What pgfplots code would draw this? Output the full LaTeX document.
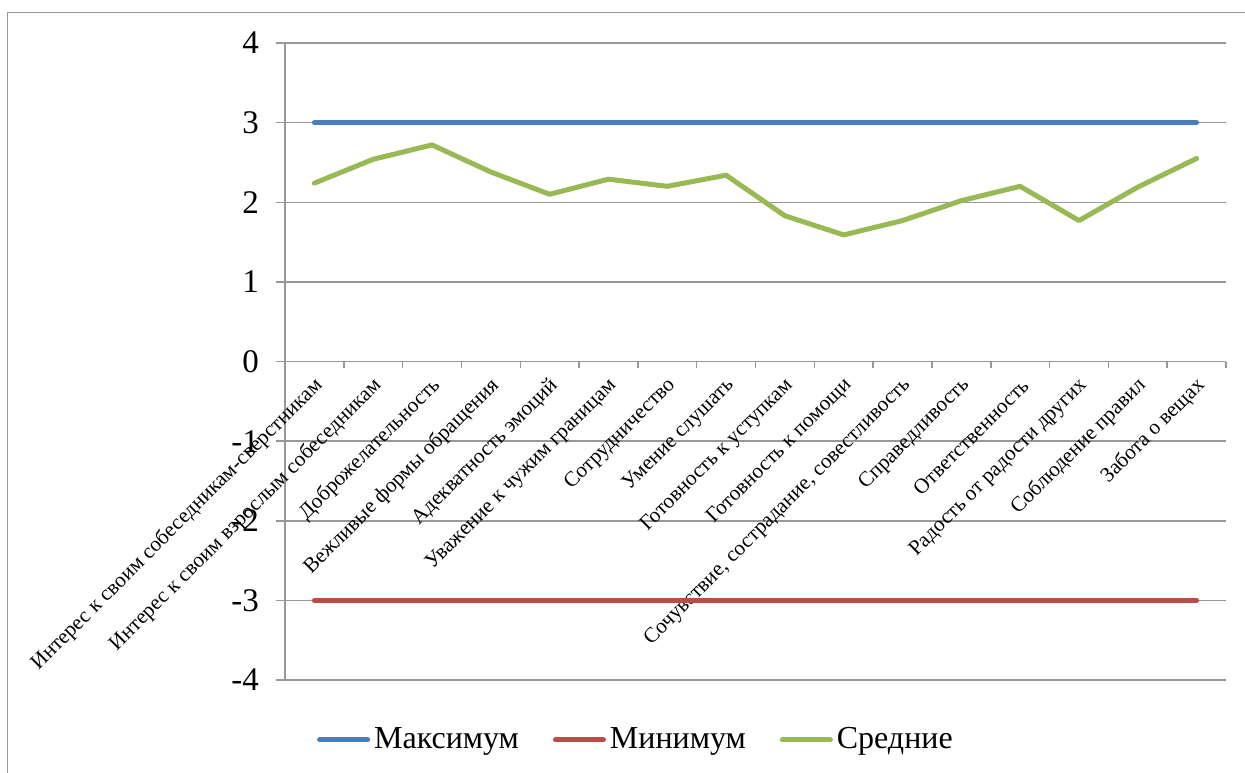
\documentclass[border=0pt]{standalone}
\usepackage{fontspec}
\setmainfont{Liberation Serif}
\usepackage{pgfplots}
\usepackage{pgfplotstable}
\pgfplotsset{compat=1.18}

\definecolor{maxblue}{RGB}{74,126,187}
\definecolor{minred}{RGB}{190,75,72}
\definecolor{avggreen}{RGB}{152,185,84}
\definecolor{gridgray}{RGB}{152,152,152}

% x: category index, max / min / average score
\pgfplotstableread{
x  mx  mn  avg
0  3  -3  2.24
1  3  -3  2.54
2  3  -3  2.72
3  3  -3  2.38
4  3  -3  2.10
5  3  -3  2.29
6  3  -3  2.20
7  3  -3  2.34
8  3  -3  1.83
9  3  -3  1.59
10 3  -3  1.77
11 3  -3  2.02
12 3  -3  2.20
13 3  -3  1.77
14 3  -3  2.19
15 3  -3  2.55
}\scores

\begin{document}
\begin{tikzpicture}
\useasboundingbox (-142.5pt,-46pt) rectangle (480pt,340pt);
\draw[gridgray, line width=0.75pt] (-138.75pt,-60pt) -- (-138.75pt,333.75pt) -- (500pt,333.75pt);
\begin{axis}[
    scale only axis,
    width=470.5pt,
    height=318.5pt,
    xmin=-0.5, xmax=15.5,
    ymin=-4, ymax=4,
    axis y line*=left,
    axis x line*=middle,
    hide obscured x ticks=false,
    hide obscured y ticks=false,
    tick align=outside,
    axis line style={gridgray, line width=0.75pt},
    ytick={-4,-3,-2,-1,0,1,2,3,4},
    yticklabels={-4,-3,-2,-1,0,1,2,3,4},
    yticklabel style={font=\fontsize{16.5}{16.5}\selectfont, xshift=-5pt},
    major tick length=4.5pt,
    minor tick length=3pt,
    ymajorgrids=true,
    grid style={gridgray, line width=0.75pt},
    major y tick style={gridgray, line width=0.75pt},
    xtick={0,...,15},
    major x tick style={draw=none},
    minor xtick={-0.5,0.5,...,15.5},
    minor x tick style={gridgray, line width=0.75pt},
    xticklabels={
        Интерес к своим собеседникам-сверстникам,
        Интерес к своим взрослым собеседникам,
        Доброжелательность,
        Вежливые формы обращения,
        Адекватность эмоций,
        Уважение к чужим границам,
        Сотрудничество,
        Умение слушать,
        Готовность к уступкам,
        Готовность к помощи,
        {Сочувствие, сострадание, совестливость},
        Справедливость,
        Ответственность,
        Радость от радости других,
        Соблюдение правил,
        Забота о вещах},
    xticklabel style={rotate=45, anchor=east, font=\fontsize{10.6}{10.6}\selectfont, yshift=-6pt, xshift=1pt},
    legend style={at={(0.374,-0.094)}, anchor=center, draw=none, fill=none,
        legend columns=-1, font=\fontsize{16}{16}\selectfont,
        /tikz/every even column/.append style={column sep=15pt}},
    legend image code/.code={\draw[#1] (0pt,0pt) -- (24pt,0pt);},
    every axis plot/.append style={line width=2.5pt, line cap=round, line join=round},
]
\addplot[maxblue] table[x=x, y=mx] {\scores};
\addlegendentry{Максимум}
\addplot[minred] table[x=x, y=mn] {\scores};
\addlegendentry{Минимум}
\addplot[avggreen] table[x=x, y=avg] {\scores};
\addlegendentry{Средние}
\end{axis}
\end{tikzpicture}
\end{document}
